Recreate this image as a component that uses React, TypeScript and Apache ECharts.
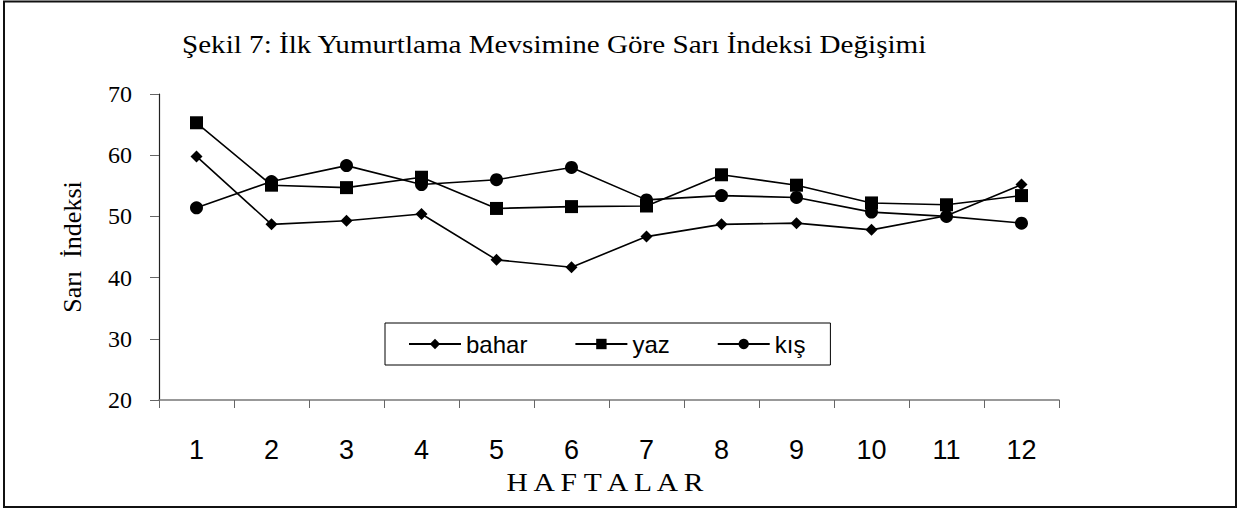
import React, { useEffect, useRef } from "react";
import * as echarts from "echarts";

const weeks = ["1", "2", "3", "4", "5", "6", "7", "8", "9", "10", "11", "12"];
const bahar = [59.8, 48.7, 49.3, 50.4, 42.9, 41.7, 46.7, 48.7, 48.9, 47.8, 50.1, 55.2];
const yaz = [65.3, 55.1, 54.7, 56.4, 51.3, 51.6, 51.7, 56.8, 55.1, 52.2, 51.9, 53.4];
const kis = [51.4, 55.7, 58.3, 55.2, 56.0, 58.0, 52.7, 53.4, 53.1, 50.7, 50.0, 48.9];

const titleText = "Şekil 7: İlk Yumurtlama Mevsimine Göre Sarı İndeksi Değişimi";
const yName = "Sarı  İndeksi";
const xName = "H A F T A L A R";

const SERIF = '"Liberation Serif", "Times New Roman", serif';
const SANS = '"Liberation Sans", Arial, sans-serif';

export default function App() {
  const ref = useRef<HTMLDivElement>(null);
  useEffect(() => {
    document.body.style.margin = "0";
    const chart = echarts.init(ref.current!, null, { renderer: "svg" });
    const mkSeries = (name: string, data: number[], symbol: string, size: number) => ({
      name,
      type: "line",
      data,
      symbol,
      symbolSize: size,
      showAllSymbol: true,
      lineStyle: { color: "#000", width: 1.6 },
      itemStyle: { color: "#000" },
      emphasis: { disabled: true },
    });
    chart.setOption({
      animation: false,
      backgroundColor: "#fff",
      grid: { left: 159, right: 180, top: 94, bottom: 110 },
      graphic: [
        {
          type: "rect",
          shape: { x: 4, y: 1.5, width: 1232, height: 505.5 },
          style: { fill: "none", stroke: "#111", lineWidth: 2 },
        },
        {
          type: "text",
          x: 182,
          y: 44,
          scaleX: 1.12,
          style: {
            text: titleText,
            font: `26px ${SERIF}`,
            fill: "#000",
            textAlign: "left",
            textVerticalAlign: "middle",
          },
        },
        {
          type: "text",
          x: 605,
          y: 483,
          scaleX: 1.18,
          style: {
            text: xName,
            font: `25px ${SERIF}`,
            fill: "#000",
            textAlign: "center",
            textVerticalAlign: "middle",
          },
        },
      ],
      legend: {
        left: 385,
        top: 323,
        orient: "horizontal",
        padding: [9, 25, 9, 23],
        itemGap: 47,
        itemWidth: 52,
        itemHeight: 13,
        borderColor: "#000",
        borderWidth: 1,
        textStyle: { fontFamily: SANS, fontSize: 24, color: "#000" },
        data: ["bahar", "yaz", "kış"],
      },
      xAxis: {
        type: "category",
        data: weeks,
        boundaryGap: true,
        axisLine: { lineStyle: { color: "#777", width: 1.5 } },
        axisTick: { show: true, inside: false, length: 8, lineStyle: { color: "#666" } },
        axisLabel: { fontFamily: SANS, fontSize: 27, color: "#000", margin: 36 },
        splitLine: { show: false },
      },
      yAxis: {
        type: "value",
        min: 20,
        max: 70,
        interval: 10,
        name: yName,
        nameLocation: "middle",
        nameRotate: 90,
        nameGap: 74,
        nameTextStyle: { fontFamily: SERIF, fontSize: 26, color: "#000" },
        axisLine: { show: true, lineStyle: { color: "#222", width: 1.2 } },
        axisTick: { show: true, inside: false, length: 9, lineStyle: { color: "#666" } },
        axisLabel: { fontFamily: SERIF, fontSize: 24, color: "#000", margin: 27 },
        splitLine: { show: false },
      },
      series: [
        mkSeries("bahar", bahar, "diamond", 12),
        mkSeries("yaz", yaz, "rect", 13),
        mkSeries("kış", kis, "circle", 13),
      ],
    });
    return () => chart.dispose();
  }, []);
  return <div ref={ref} style={{ width: 1239, height: 510 }} />;
}
